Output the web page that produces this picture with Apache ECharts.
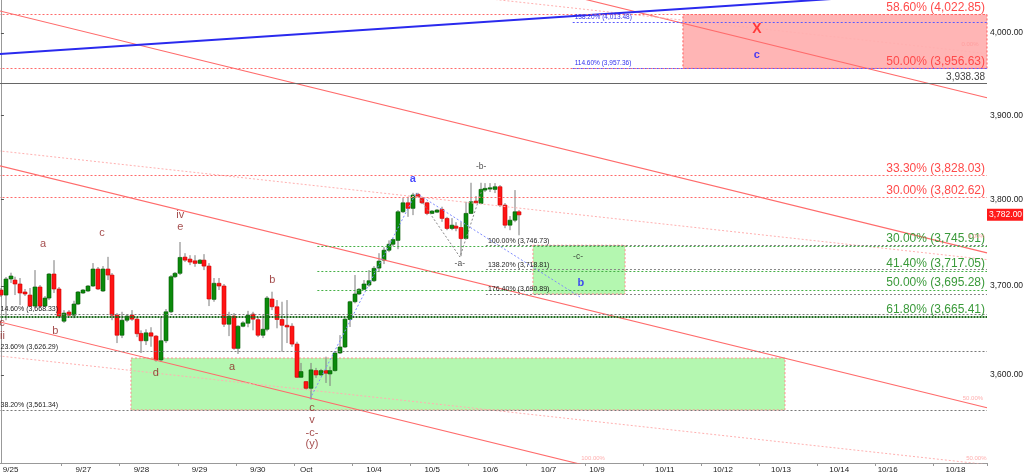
<!DOCTYPE html>
<html><head><meta charset="utf-8">
<script src="https://cdn.jsdelivr.net/npm/echarts@6/dist/echarts.min.js"></script>
<style>html,body{margin:0;padding:0;background:#fff}#c{width:1024px;height:475px}</style>
</head><body><div id="c"></div>
<script>
// ---------- DATA ----------
const SLOTS = 204; // 2-hour bars incl. future area
const opens = [3695.4,3689.7,3708.0,3706.8,3702.3,3693.2,3689.7,3677.2,3698.9,3677.2,3686.3,3713.7,3696.6,3660.1,3670.4,3666.9,3679.5,3692.0,3694.3,3700.0,3719.4,3694.3,3719.4,3712.5,3666.9,3644.3,3661.2,3666.9,3662.4,3646.3,3638.1,3647.0,3643.3,3616.7,3638.1,3670.7,3710.6,3714.5,3733.1,3730.8,3728.8,3725.9,3729.6,3722.8,3684.8,3703.1,3700.0,3656.7,3665.8,3629.6,3654.4,3657.8,3668.1,3661.8,3644.3,3651.0,3685.2,3676.4,3662.0,3655.5,3654.4,3634.4,3597.4,3592.6,3585.2,3604.8,3600.0,3604.8,3601.1,3604.8,3624.4,3631.1,3662.0,3682.1,3690.9,3696.2,3701.1,3706.0,3720.5,3729.6,3741.0,3747.9,3752.4,3785.6,3796.1,3789.6,3806.0,3801.3,3796.1,3783.7,3785.2,3788.4,3777.9,3766.2,3768.9,3767.3,3754.5,3783.7,3798.1,3795.4,3811.0,3812.2,3811.8,3814.9,3793.4,3770.0,3775.8,3785.6];
const highs = [3697.7,3710.3,3715.2,3710.6,3709.1,3696.6,3697.7,3718.2,3701.1,3688.6,3714.8,3729.6,3698.9,3672.6,3672.6,3683.2,3694.3,3696.6,3701.1,3726.2,3721.7,3722.8,3733.4,3714.8,3669.2,3670.7,3668.0,3672.6,3664.7,3649.8,3651.0,3653.3,3644.4,3664.4,3673.8,3712.5,3716.0,3750.5,3737.6,3735.3,3735.3,3730.8,3736.5,3726.2,3709.1,3709.1,3702.3,3670.7,3669.2,3655.5,3660.1,3671.8,3670.7,3664.7,3667.0,3688.6,3693.5,3684.0,3682.1,3684.0,3657.8,3637.0,3613.3,3593.3,3613.3,3607.8,3606.7,3620.3,3609.2,3625.9,3644.4,3663.5,3683.2,3712.5,3697.7,3706.8,3718.2,3722.8,3737.6,3744.5,3752.4,3754.8,3787.6,3801.6,3803.2,3807.8,3807.8,3803.2,3797.3,3787.6,3788.8,3791.5,3779.7,3778.2,3773.5,3773.5,3797.3,3819.6,3804.0,3819.6,3819.2,3819.2,3819.2,3816.9,3795.8,3780.6,3811.0,3787.6];
const lows = [3687.5,3661.2,3703.4,3689.7,3678.3,3688.6,3676.4,3674.9,3674.9,3676.1,3684.0,3692.0,3663.5,3658.2,3665.8,3663.5,3678.3,3690.9,3693.2,3698.9,3695.4,3693.2,3706.8,3661.2,3635.5,3641.1,3659.0,3660.5,3642.2,3624.4,3633.3,3631.4,3614.8,3614.4,3635.5,3669.2,3709.1,3712.5,3727.4,3723.9,3722.0,3725.1,3718.2,3677.2,3682.1,3695.4,3653.6,3643.3,3628.0,3623.3,3653.3,3653.3,3649.8,3642.2,3641.1,3648.7,3672.6,3652.1,3625.9,3635.5,3631.4,3596.7,3596.7,3583.4,3572.8,3596.7,3598.9,3591.1,3587.8,3603.7,3623.3,3630.0,3653.6,3680.3,3689.7,3695.4,3699.2,3704.6,3716.0,3725.1,3738.8,3745.6,3742.2,3784.1,3779.7,3781.7,3802.8,3794.6,3781.7,3782.9,3784.1,3773.9,3764.2,3764.2,3763.0,3734.2,3753.7,3782.9,3795.4,3794.6,3808.7,3808.7,3807.5,3791.1,3766.5,3764.2,3773.5,3758.3];
const closes = [3689.7,3708.0,3711.4,3702.3,3692.0,3690.9,3677.2,3698.9,3677.2,3686.3,3713.7,3696.6,3665.8,3669.2,3666.9,3679.5,3693.2,3695.4,3700.0,3719.4,3696.6,3719.4,3712.5,3666.9,3644.3,3661.2,3665.8,3662.4,3646.0,3638.1,3647.0,3643.3,3616.7,3638.1,3670.7,3710.6,3714.5,3732.7,3729.6,3727.4,3725.9,3729.6,3722.8,3685.2,3703.1,3700.0,3656.7,3665.8,3629.6,3654.4,3658.2,3666.9,3662.4,3644.3,3651.0,3686.3,3676.4,3662.0,3655.5,3653.6,3634.4,3597.4,3603.7,3585.2,3605.6,3600.0,3604.8,3601.9,3604.8,3624.4,3631.1,3662.4,3682.1,3690.9,3696.2,3702.3,3706.0,3720.2,3728.5,3741.0,3747.9,3753.3,3785.6,3796.1,3789.6,3805.2,3803.2,3796.1,3783.7,3786.4,3787.6,3777.9,3766.2,3770.0,3766.5,3754.5,3783.7,3797.3,3796.1,3811.8,3813.0,3813.7,3814.9,3793.4,3770.0,3775.8,3785.6,3782.0];

const xLabelText = ['9/25','9/27','9/28','9/29','9/30','Oct','10/4','10/5','10/6','10/7','10/9','10/11','10/12','10/13','10/14','10/16','10/18'];
const xLabelIdx  = [2,17,29,41,53,63,77,89,101,113,123,137,149,161,173,183,197];
const xTickIdx   = [13,25,37,49,61,73,85,97,109,121,133,145,157,169,181,193];
const yTicks = [3600,3700,3800,3900,4000];
const yMin = 3503.6, yMax = 4040.9;
const lastPrice = 3782.00;

// fib / level lines
const redLevels = [4022.85,3956.63,3828.03,3802.62];
const redLevelPct = ['58.60%','50.00%','33.30%','30.00%'];
const greenLevels = [3745.91,3717.05,3695.28];
const greenLevelPct = ['30.00%','41.40%','50.00%'];
const greenStart = 65.3;
const keyLevel = 3665.41, keyLevelPct = '61.80%';
const blueLevels = [4013.48,3957.36];
const blueLevelPct = ['138.20%','114.60%'];
const blueStart = 118.0;
const grayLeftLevels = [3668.33,3626.29,3561.34];
const grayLeftPct = ['14.60%','23.60%','38.20%'];
const grayExtLevels = [3746.73,3718.81,3690.89];
const grayExtPct = ['100.00%','138.20%','176.40%'];
const grayExtStart = 100.1;
const pivotLevel = 3938.38;

// channel lines [x1, p1, x2, p2] (x in bar index)
const solidChannel = [[-0.5,4224.8,203.5,3920.9],[-0.5,4027.7,203.5,3738.0],[-0.5,3839.9,203.5,3563.7],[-0.5,3659.6,203.5,3396.4]];
const dottedChannel = [[-0.5,4110.2,203.5,3974.7],[-0.5,3857.4,203.5,3730.2],[-0.5,3621.2,203.5,3501.9]];
const blueTrend = [[-0.5,3974.1],[203.5,4055.0]];
const blueWave = [[63.78,3573.4],[85.65,3807.6],[119.5,3687.5]];
const grayWave = [[85.65,3807.6],[94.73,3733.2],[99.27,3811.1]];

// zones [x1, x2, pTop, pBottom]
const greenZones = [[26.84,161.8,3618.75,3561.34],[109.8,128.8,3746.73,3690.89]];
const redZone = [140.75,203.5,4022.85,3956.63];

// annotations [x, price, text]
const waveDark = [[8.68,3748.2,'a'],[20.86,3760.9,'c'],[37.0,3781.8,'iv'],[37.0,3767.9,'e'],[11.2,3649.0,'b'],[0.2,3658.0,'c'],[0.3,3643.4,'ii'],[31.99,3602.1,'d'],[47.7,3608.8,'a'],[56.0,3706.8,'b'],[64.2,3563.5,'c'],[64.2,3550.3,'v'],[64.2,3536.1,'-c-'],[64.2,3524.2,'(y)']];
const waveBlue = [[85.0,3824.0,'a'],[119.7,3703.4,'b'],[156.0,3973.0,'c']];
const waveBlack = [[94.7,3725.2,'-a-'],[99.1,3838.2,'-b-'],[119.1,3733.2,'-c-']];
const markX = [[156.0,4005.0,'X']];
const channelPct = [[200.0,3986.0,'0.00%'],[201.3,3757.4,'0.00%'],[200.6,3574.1,'50.00%'],[201.3,3508.6,'50.00%'],[122.2,3508.5,'100.00%']];

// ---------- CHART ----------
const fmt = v => v.toLocaleString('en-US',{minimumFractionDigits:2,maximumFractionDigits:2});
const FONT = 'Liberation Sans, Arial, sans-serif';
const cats = Array.from({length:SLOTS},(_,i)=>String(i));
const labelMap = {}; xLabelIdx.forEach((k,j)=>labelMap[k]=xLabelText[j]);
const tickSet = new Set(xTickIdx);
const candleData = opens.map((o,i)=>[i,o,closes[i],lows[i],highs[i]]);
const XEND = SLOTS - 0.5;
const DOT = [2,2];

function hLine(v, start, color, type, width, text, pos, size, extra){
  const ls = {color, type, width};
  const lab = text ? Object.assign({show:true, formatter:text, position:pos, color, fontSize:size, fontFamily:FONT, distance:[2,1]}, extra||{}) : {show:false};
  return [{coord:[start, v], lineStyle:ls, label:lab},{coord:[XEND, v]}];
}
const levelLines = [];
redLevels.forEach((v,i)=>levelLines.push(hLine(v,-0.5,'#ff6a6a',DOT,1,redLevelPct[i]+' ('+fmt(v)+')','insideEndTop',12,{color:'#ff4a4a'})));
blueLevels.forEach((v,i)=>levelLines.push(hLine(v,blueStart,'#5a5aff',DOT,1,blueLevelPct[i]+' ('+fmt(v)+')','insideStartTop',6.5,{color:'#3030ee'})));
greenLevels.forEach((v,i)=>levelLines.push(hLine(v,greenStart,'#46b046',DOT,1,greenLevelPct[i]+' ('+fmt(v)+')','insideEndTop',12,{color:'#3a9a3a'})));
levelLines.push(hLine(keyLevel,-0.5,'#1d6b1d',[2,1],2.2,keyLevelPct+' ('+fmt(keyLevel)+')','insideEndTop',12,{color:'#3a9a3a'}));
grayLeftLevels.forEach((v,i)=>levelLines.push(hLine(v,-0.5,'#777',DOT,1,grayLeftPct[i]+' ('+fmt(v)+')','insideStartTop',7,{color:'#222'})));
grayExtLevels.forEach((v,i)=>levelLines.push(hLine(v,grayExtStart,'#888',DOT,1,grayExtPct[i]+' ('+fmt(v)+')','insideStartTop',7,{color:'#222'})));
levelLines.push(hLine(pivotLevel,-0.5,'#666','solid',1.2,fmt(pivotLevel),'insideEndTop',10,{color:'#444'}));
levelLines.push([{coord:[XEND-0.01,lastPrice],lineStyle:{color:'rgba(0,0,0,0)',width:0},label:{show:true,position:'end',formatter:fmt(lastPrice),color:'#fff',backgroundColor:'#ff1a1a',padding:[2,1,1,2],fontSize:8.5,fontFamily:FONT,distance:0}},{coord:[XEND,lastPrice]}]);

const zoneAreas = greenZones.map(z=>[{coord:[z[0],z[2]],itemStyle:{color:'#b4f7b0',borderColor:'#ff8a8a',borderWidth:1,borderType:DOT}},{coord:[z[1],z[3]]}]);
zoneAreas.push([{coord:[redZone[0],redZone[2]],itemStyle:{color:'rgba(255,120,120,0.55)',borderColor:'#ff5a5a',borderWidth:1,borderType:DOT}},{coord:[redZone[1],redZone[3]]}]);

function lineSeries(pts, color, type, width, z){
  return {type:'line', xAxisIndex:1, data:pts, showSymbol:false, symbol:'none', silent:true, clip:true, z:z||4,
    lineStyle:{color, type, width}, animation:false};
}
function textSeries(items, color, size, weight){
  return {type:'scatter', xAxisIndex:1, symbol:'circle', symbolSize:1, itemStyle:{color:'rgba(0,0,0,0)'}, z:6, silent:true, animation:false,
    data: items.map(t=>({value:[t[0],t[1]], name:t[2]})),
    label:{show:true, position:'inside', formatter:p=>p.name, color, fontSize:size, fontWeight:weight||'normal', fontFamily:FONT}};
}

const series = [
  {type:'line', xAxisIndex:1, data:[], z:1, silent:true, animation:false,
   markArea:{silent:true, data:zoneAreas}},
  {type:'custom', xAxisIndex:0, z:3, animation:false, data:candleData, encode:{x:0,y:[1,2,3,4]},
   renderItem:function(params, api){
     const i=api.value(0), o=api.value(1), c=api.value(2), l=api.value(3), h=api.value(4);
     const pO=api.coord([i,o]), pC=api.coord([i,c]), pL=api.coord([i,l]), pH=api.coord([i,h]);
     const x=Math.round(pO[0]);
     const up = c>=o;
     const top=Math.min(pO[1],pC[1]), hgt=Math.max(Math.abs(pO[1]-pC[1]),1);
     return {type:'group', children:[
       {type:'line', shape:{x1:x,y1:pH[1],x2:x,y2:pL[1]}, style:{stroke:'#7a7a7a',lineWidth:1}},
       {type:'rect', shape:{x:x-2,y:top,width:4,height:hgt}, style:{fill: up?'#0b8a0b':'#ff1414', stroke: up?'#055a05':'#d00000', lineWidth:0.6}}
     ]};
   }},
  {type:'line', xAxisIndex:1, data:[], z:5, silent:true, animation:false,
   markLine:{silent:true, symbol:['none','none'], animation:false, data:levelLines}},
  ...solidChannel.map(s=>lineSeries([[s[0],s[1]],[s[2],s[3]]],'#ff6b6b','solid',1.1,4)),
  ...dottedChannel.map(s=>lineSeries([[s[0],s[1]],[s[2],s[3]]],'#ffb0b0',DOT,1,4)),
  lineSeries(blueTrend,'#2a2aee','solid',2,4),
  lineSeries(blueWave,'#7f8cff',DOT,1,4),
  lineSeries(grayWave,'#888',DOT,1,4),
  textSeries(waveDark,'#8b1a1a',11),
  textSeries(waveBlue,'#1a1aff',11,'bold'),
  textSeries(waveBlack,'#222',8.5),
  textSeries(markX,'#ff1a1a',14,'bold'),
  textSeries(channelPct,'#ff9a9a',6)
];

const chart = echarts.init(document.getElementById('c'), null, {renderer:'canvas'});
chart.setOption({
  animation:false,
  backgroundColor:'#fff',
  grid:{left:-1.5, right:37, top:0, bottom:12, containLabel:false, outerBoundsMode:'none'},
  xAxis:[
    {type:'category', data:cats, boundaryGap:true, position:'bottom',
     axisLine:{show:true, lineStyle:{color:'#999'}},
     axisTick:{show:true, interval:(i)=>tickSet.has(i), length:3, lineStyle:{color:'#999'}},
     axisLabel:{show:true, interval:(i)=>labelMap[i]!==undefined, formatter:(v,i)=>labelMap[i]||'', fontSize:8, color:'#222', fontFamily:FONT, margin:3},
     splitLine:{show:false}},
    {type:'value', min:-0.5, max:XEND, show:false}
  ],
  yAxis:{type:'log', logBase:10, min:yMin, max:yMax, position:'right',
     axisLine:{show:true, lineStyle:{color:'#999'}},
     axisTick:{show:true, customValues:yTicks, length:3, lineStyle:{color:'#555'}},
     axisLabel:{show:true, customValues:yTicks, formatter:v=>fmt(v), fontSize:8.5, color:'#222', fontFamily:FONT, margin:3},
     splitLine:{show:false}},
  series
});
</script></body></html>
